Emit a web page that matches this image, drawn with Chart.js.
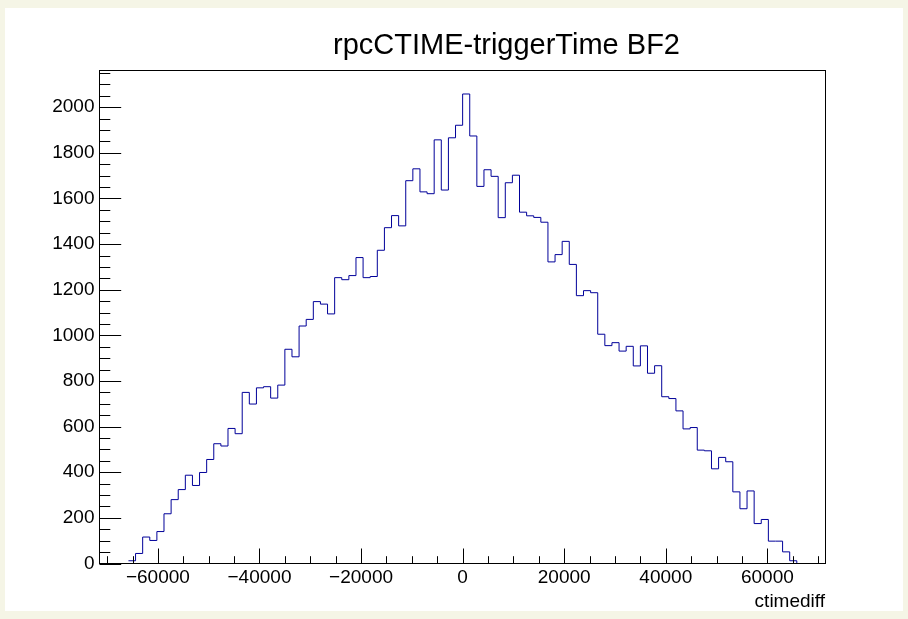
<!DOCTYPE html>
<html>
<head>
<title>rpcCTIME-triggerTime BF2</title>
<script src="https://cdn.jsdelivr.net/npm/chart.js"></script>
<style>
  body { margin: 0; background: #f5f5e6; }
  canvas { display: block; }
</style>
</head>
<body>
<canvas id="hist" width="908" height="619"></canvas>
<script>
// histogram: ctimediff, bins of 1400 starting at -65800
const firstEdge = -65800;
const binWidth = 1400;
const counts = [
  12, 44, 116, 101, 140, 218, 280, 324, 387, 342,
  399, 456, 525, 515, 592, 569, 750, 699, 770, 775,
  725, 782, 939, 906, 1041, 1070, 1148, 1137, 1094, 1253,
  1244, 1262, 1341, 1253, 1258, 1373, 1472, 1525, 1480, 1678,
  1730, 1629, 1621, 1857, 1637, 1866, 1921, 2058, 1874, 1653,
  1726, 1697, 1516, 1669, 1702, 1540, 1524, 1517, 1496, 1322,
  1354, 1412, 1311, 1174, 1196, 1187, 1005, 955, 968, 931,
  952, 866, 954, 834, 867, 731, 723, 669, 590, 596,
  497, 494, 415, 465, 446, 314, 240, 318, 175, 193,
  98, 98, 51, 12
];
const xTicks = [-60000, -40000, -20000, 0, 20000, 40000, 60000];
const yTicks = [0, 200, 400, 600, 800, 1000, 1200, 1400, 1600, 1800, 2000];
const xMinorStep = 5000;
const yMinorStep = 50;
const xMin = -71500, xMax = 71450;
const yMax = 2161;

// bin edges with the count of the bin that starts there; the last point closes the outline
const points = [];
counts.forEach((c, i) => points.push({x: firstEdge + i * binWidth, y: c}));
points.push({x: firstEdge + counts.length * binWidth, y: 0});

const FONT = '"Liberation Sans", Arial, Helvetica, sans-serif';
Chart.defaults.font.family = FONT;
Chart.defaults.color = '#000';

// ROOT-like canvas: beige border, frame box, inward ticks, title
const rootStyle = {
  id: 'rootStyle',
  beforeDraw(chart) {
    const ctx = chart.ctx;
    ctx.save();
    ctx.fillStyle = '#f5f5e6';
    ctx.fillRect(0, 0, chart.width, chart.height);
    ctx.fillStyle = '#ffffff';
    ctx.fillRect(5, 8, 898, 603);
    ctx.restore();
  },
  afterDraw(chart) {
    const ctx = chart.ctx;
    const a = chart.chartArea;
    const x = chart.scales.x, y = chart.scales.y;
    ctx.save();
    ctx.strokeStyle = '#000';
    ctx.lineWidth = 1;
    ctx.strokeRect(a.left, a.top, a.right - a.left, a.bottom - a.top);

    ctx.beginPath();
    for (let v = 0; v <= yMax; v += yMinorStep) {
      const py = Math.round(y.getPixelForValue(v)) + 0.5;
      const len = yTicks.includes(v) ? 21.7 : 10.8;
      ctx.moveTo(a.left, py);
      ctx.lineTo(a.left + len, py);
    }
    for (let v = -70000; v <= 70000; v += xMinorStep) {
      const px = Math.round(x.getPixelForValue(v)) + 0.5;
      const len = xTicks.includes(v) ? 15 : 7.3;
      ctx.moveTo(px, a.bottom);
      ctx.lineTo(px, a.bottom - len);
    }
    ctx.stroke();

    ctx.fillStyle = '#000';
    ctx.textBaseline = 'alphabetic';
    ctx.textAlign = 'center';
    ctx.font = '29px ' + FONT;
    ctx.fillText('rpcCTIME-triggerTime BF2', 506.5, 54);
    ctx.textAlign = 'right';
    ctx.font = '19px ' + FONT;
    ctx.fillText('ctimediff', 825, 606.7);
    ctx.restore();
  }
};

new Chart(document.getElementById('hist'), {
  type: 'line',
  data: {
    datasets: [{
      data: points,
      borderColor: '#000099',
      borderWidth: 1,
      pointRadius: 0,
      stepped: 'before',
      fill: false
    }]
  },
  options: {
    responsive: false,
    animation: false,
    layout: { padding: { left: 0, right: 82.5, top: 70.5, bottom: 0 } },
    plugins: { legend: { display: false }, tooltip: { enabled: false } },
    scales: {
      x: {
        type: 'linear',
        min: xMin,
        max: xMax,
        grid: { display: false, drawTicks: false },
        border: { display: false },
        afterFit: s => { s.height = 55.5; },
        afterBuildTicks: s => { s.ticks = xTicks.map(v => ({value: v})); },
        ticks: {
          padding: 3,
          font: { size: 19 },
          maxRotation: 0,
          autoSkip: false,
          callback: v => String(v).replace('-', '\u2212')
        }
      },
      y: {
        min: 0,
        max: yMax,
        grid: { display: false, drawTicks: false },
        border: { display: false },
        afterFit: s => { s.width = 99.5; },
        afterBuildTicks: s => { s.ticks = yTicks.map(v => ({value: v})); },
        ticks: {
          padding: 5,
          font: { size: 19 },
          autoSkip: false,
          callback: v => String(v)
        }
      }
    }
  },
  plugins: [rootStyle]
});
</script>
</body>
</html>
